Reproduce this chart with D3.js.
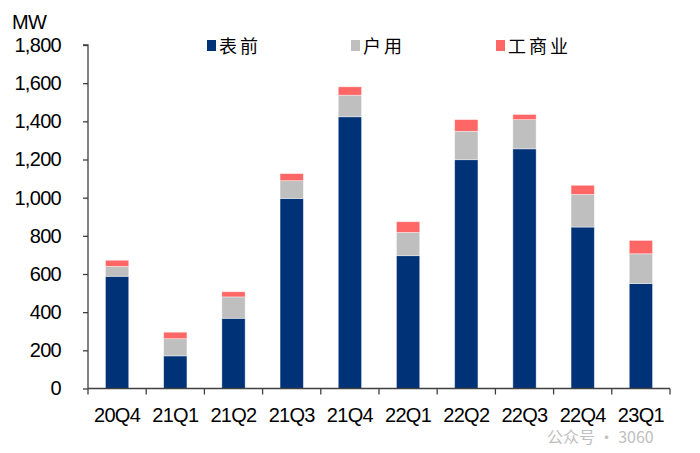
<!DOCTYPE html>
<html><head><meta charset="utf-8">
<script src="https://cdn.jsdelivr.net/npm/d3@7"></script>
<style>body{margin:0;background:#fff;}svg{display:block;}</style>
</head><body>
<svg id="c" width="700" height="453"></svg>
<script>
const categories = ["20Q4","21Q1","21Q2","21Q3","21Q4","22Q1","22Q2","22Q3","22Q4","23Q1"];
const seriesNames = ["表前","户用","工商业"];
const frontOfMeter = [588,171,368,996,1424,696,1199,1256,846,550];
const residential = [52,90,112,93,113,122,149,153,171,156];
const commercial = [32,34,27,37,44,56,61,27,48,70];
const yTicks = [0,200,400,600,800,1000,1200,1400,1600,1800];
const colors = ["#003278","#bfbfbf","#ff6666"];

const svg = d3.select("#c");
const mLeft = 88, mRight = 670, mTop = 45, mBottom = 388.5;
const x = d3.scaleBand().domain(categories).range([mLeft,mRight]).paddingInner(0.6).paddingOuter(0.3);
const xb = d3.scaleBand().domain(categories).range([mLeft,mRight]);
const y = d3.scaleLinear().domain([0,1800]).range([mBottom,mTop]);

const rows = categories.map((c,i)=>({cat:c, "表前":frontOfMeter[i], "户用":residential[i], "工商业":commercial[i]}));
const stack = d3.stack().keys(seriesNames)(rows);

svg.append("g").selectAll("g").data(stack).join("g")
  .attr("fill",(d,i)=>colors[i])
  .selectAll("rect").data(d=>d).join("rect")
  .attr("x",d=>x(d.data.cat)).attr("width",x.bandwidth())
  .attr("y",d=>y(d[1])).attr("height",d=>y(d[0])-y(d[1]))
  .attr("stroke","#ffffff").attr("stroke-opacity",0.5).attr("stroke-width",0.8);

const font = "'Liberation Sans', Arial, sans-serif";
const fs = "20px", ls = "-0.7px";
// y axis
const ya = svg.append("g").attr("transform",`translate(${mLeft},0)`)
  .call(d3.axisLeft(y).tickValues(yTicks).tickSize(5).tickPadding(22).tickFormat(d3.format(",")));
ya.select(".domain").attr("stroke","#404040").attr("stroke-width",1.3).attr("d",`M-5,${mTop}H0V${mBottom}`);
ya.selectAll(".tick line").attr("stroke","#404040").attr("stroke-width",1.3);
ya.selectAll(".tick text").attr("font-family",font).attr("font-size",fs).attr("fill","#000").attr("letter-spacing",ls);

// x axis
const xa = svg.append("g").attr("transform",`translate(0,${mBottom})`);
xa.append("path").attr("d",`M${mLeft},0H${mRight}`).attr("stroke","#404040").attr("stroke-width",1.3);
xa.selectAll("line").data(categories.concat(["end"])).join("line")
  .attr("x1",(d,i)=>i<categories.length?xb(d):mRight).attr("x2",(d,i)=>i<categories.length?xb(d):mRight)
  .attr("y1",0).attr("y2",6).attr("stroke","#404040").attr("stroke-width",1.3);
xa.selectAll("text").data(categories).join("text")
  .attr("x",d=>xb(d)+xb.bandwidth()/2).attr("y",33)
  .attr("text-anchor","middle").attr("font-family",font).attr("font-size",fs).attr("letter-spacing",ls).attr("fill","#000")
  .text(d=>d);

// unit
svg.append("text").attr("x",12).attr("y",29).attr("font-family",font).attr("font-size",fs).attr("letter-spacing",ls).text("MW");

// legend
const lx = [207,351,496];
const lg = svg.append("g");
seriesNames.forEach((n,i)=>{
  lg.append("rect").attr("x",lx[i]).attr("y",40).attr("width",9).attr("height",11).attr("fill",colors[i]);
  lg.append("text").attr("x",lx[i]+12).attr("y",53).attr("font-family","'Noto Sans CJK SC', sans-serif").attr("font-size","18px").attr("letter-spacing","3px").attr("fill","#000").text(n);
});

// watermark
svg.append("text").attr("x",547).attr("y",443).attr("font-family","'Noto Sans CJK SC', sans-serif").attr("font-size","16px").attr("fill","#c0c0c0").text("公众号 · 3060");
</script>
</body></html>
